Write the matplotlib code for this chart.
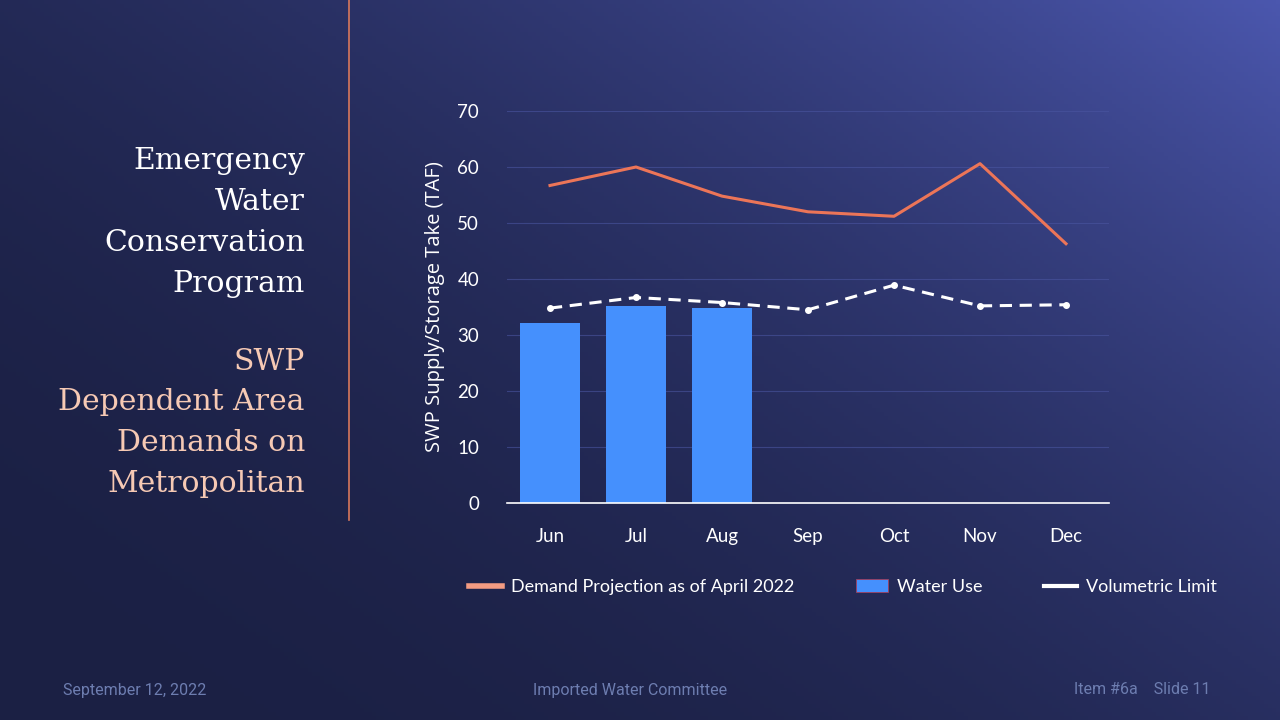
import numpy as np
import matplotlib
matplotlib.use("Agg")
import matplotlib.pyplot as plt
from matplotlib.colors import to_rgb
from matplotlib.lines import Line2D
from matplotlib.patches import Patch

# ---- data ----
months = ["Jun", "Jul", "Aug", "Sep", "Oct", "Nov", "Dec"]
demand_projection = [56.7, 60.0, 54.8, 52.0, 51.2, 60.6, 46.3]
water_use = [32.2, 35.1, 34.9]
volumetric_limit = [34.8, 36.7, 35.8, 34.5, 38.9, 35.2, 35.4]
y_ticks = [0, 10, 20, 30, 40, 50, 60, 70]

title_lines = ["Emergency", "Water", "Conservation", "Program"]
subtitle_lines = ["SWP", "Dependent Area", "Demands on", "Metropolitan"]

W, H = 1280, 720
fig = plt.figure(figsize=(W / 100, H / 100), dpi=100)

# ---- background gradient ----
bg = fig.add_axes([0, 0, 1, 1])
bg.set_axis_off()
xx, yy = np.meshgrid(np.linspace(0, 1, 320), np.linspace(1, 0, 180))
t = np.clip(0.55 * xx + 0.45 * yy, 0, 1) ** 2.2
c0 = np.array(to_rgb("#1b2044"))
c1 = np.array(to_rgb("#4b57ae"))
img = c0[None, None, :] * (1 - t[..., None]) + c1[None, None, :] * t[..., None]
bg.imshow(img, extent=[0, 1, 0, 1], aspect="auto", zorder=0)
bg.set_xlim(0, 1)
bg.set_ylim(0, 1)

# separator line
bg.plot([349 / W, 349 / W], [1, 1 - 520 / H], color="#d9785c", lw=1.2)

serif = ["DejaVu Serif"]
for i, s in enumerate(title_lines):
    bg.text(305 / W, 1 - (161 + 41 * i) / H, s, ha="right", va="center",
            color="white", fontsize=21.5, family=serif)
for i, s in enumerate(subtitle_lines):
    bg.text(305 / W, 1 - (362 + 40.5 * i) / H, s, ha="right", va="center",
            color="#f6c9b4", fontsize=21.5, family=serif)

foot = "#6d7db0"
bg.text(63 / W, 1 - 690 / H, "September 12, 2022", ha="left", va="center",
        color=foot, fontsize=11.5, family="Roboto")
bg.text(630 / W, 1 - 690 / H, "Imported Water Committee", ha="center", va="center",
        color=foot, fontsize=11.5, family="Roboto")
bg.text(1211 / W, 1 - 690 / H, "Item #6a    Slide 11", ha="right", va="center",
        color=foot, fontsize=11.5, family="Roboto")

# ---- chart ----
left, right, bottom, top = 507, 1109, 503, 111
ax = fig.add_axes([left / W, 1 - bottom / H, (right - left) / W, (bottom - top) / H])
ax.set_facecolor("none")
x = np.arange(len(months))
ax.bar(x[:len(water_use)], water_use, width=0.69, color="#4590fd", zorder=2)
ax.plot(x, demand_projection, color="#ec7558", lw=2.2, zorder=3)
ax.plot(x, volumetric_limit, color="white", lw=2.2, dashes=(4, 2.5),
        marker="o", markersize=4, zorder=3)

ax.set_xlim(-0.5, len(months) - 0.5)
ax.set_ylim(0, 70)
ax.set_yticks(y_ticks)
ax.set_xticks(x)
ax.set_xticklabels(months)
ax.grid(axis="y", color="#4a55a0", lw=0.8, alpha=0.6, zorder=0)
for sp in ["top", "right", "left"]:
    ax.spines[sp].set_visible(False)
ax.spines["bottom"].set_color("white")
ax.spines["bottom"].set_linewidth(1.2)
ax.tick_params(axis="both", length=0, colors="white", labelsize=13.5)
ax.tick_params(axis="y", pad=20)
ax.tick_params(axis="x", pad=18)
for lab in ax.get_xticklabels() + ax.get_yticklabels():
    lab.set_family(["Lato", "DejaVu Sans"])
ax.set_ylabel("SWP Supply/Storage Take (TAF)", color="white", fontsize=14.5,
              family=["Open Sans", "DejaVu Sans"], labelpad=9)

handles = [
    Line2D([0], [0], color="#f39b82", lw=4),
    Patch(facecolor="#4590fd", edgecolor="#a04060", lw=0.6),
    Line2D([0], [0], color="white", lw=3),
]
labels = ["Demand Projection as of April 2022", "Water Use", "Volumetric Limit"]
leg = fig.legend(handles, labels, loc="center", bbox_to_anchor=(843 / W, 1 - 587 / H),
                 ncol=3, frameon=False, labelcolor="white",
                 prop={"family": ["Lato", "DejaVu Sans"], "size": 13},
                 columnspacing=3.4, handlelength=1.8, handletextpad=0.5)

fig.savefig("out.png", dpi=100)
